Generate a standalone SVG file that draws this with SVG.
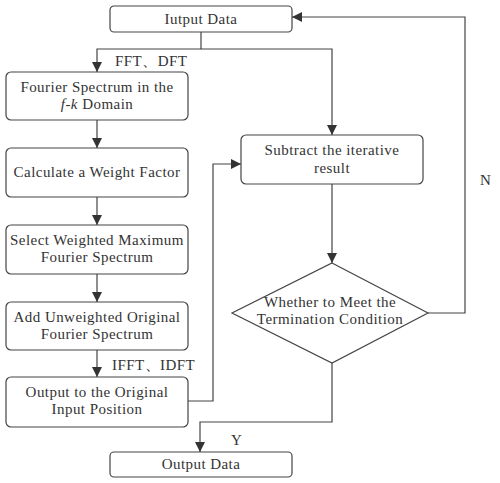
<svg xmlns="http://www.w3.org/2000/svg" width="500" height="483" viewBox="0 0 500 483">
<defs>
<marker id="ah" viewBox="0 0 10 10" refX="10" refY="5" markerWidth="10" markerHeight="10" markerUnits="userSpaceOnUse" orient="auto">
<path d="M0,0 L10,5 L0,10 Z" fill="#333"/>
</marker>
<style>
.box{fill:#fff;stroke:#444;stroke-width:1.2}
.t{font-family:'Liberation Serif',serif;font-size:15px;letter-spacing:0.45px;fill:#333;text-anchor:middle}
.l{font-family:'Liberation Serif',serif;font-size:15px;letter-spacing:0.45px;fill:#333}
.c{fill:none;stroke:#444;stroke-width:1.2}
</style>
</defs>
<rect width="500" height="483" fill="#fff"/>
<g id="connectors">
<path class="c" d="M201,32 V49 H97 V72" marker-end="url(#ah)"/>
<path class="c" d="M201,49 H332 V135" marker-end="url(#ah)"/>
<path class="c" d="M97,120 V148" marker-end="url(#ah)"/>
<path class="c" d="M97,197 V225" marker-end="url(#ah)"/>
<path class="c" d="M97,274 V302" marker-end="url(#ah)"/>
<path class="c" d="M97,350 V377" marker-end="url(#ah)"/>
<path class="c" d="M188,401 H213 V164 H241" marker-end="url(#ah)"/>
<path class="c" d="M332,184 V263" marker-end="url(#ah)"/>
<path class="c" d="M428,313 H465 V17 H292" marker-end="url(#ah)"/>
<path class="c" d="M332,363 V422 H200 V452" marker-end="url(#ah)"/>
<text class="l" x="115" y="66">FFT、DFT</text>
<text class="l" x="112" y="370">IFFT、IDFT</text>
<text class="l" x="480" y="185">N</text>
<text class="l" x="231" y="445">Y</text>
</g>
<g id="n-input">
<rect class="box" x="110" y="6" width="182" height="26" rx="4"/>
<text class="t" x="201" y="24">Iutput Data</text>
</g>
<g id="n-fourier">
<rect class="box" x="6" y="72" width="182" height="48" rx="5"/>
<text class="t" x="97" y="92">Fourier Spectrum in the</text>
<text class="t" x="97" y="109"><tspan font-style="italic">f-k</tspan> Domain</text>
</g>
<g id="n-weight">
<rect class="box" x="6" y="148" width="182" height="49" rx="5"/>
<text class="t" x="97" y="177">Calculate a Weight Factor</text>
</g>
<g id="n-select">
<rect class="box" x="6" y="225" width="182" height="49" rx="5"/>
<text class="t" x="97" y="245">Select Weighted Maximum</text>
<text class="t" x="97" y="262">Fourier Spectrum</text>
</g>
<g id="n-add">
<rect class="box" x="6" y="302" width="182" height="48" rx="5"/>
<text class="t" x="97" y="322">Add Unweighted Original</text>
<text class="t" x="97" y="339">Fourier Spectrum</text>
</g>
<g id="n-outpos">
<rect class="box" x="6" y="377" width="182" height="50" rx="5"/>
<text class="t" x="97" y="397">Output to the Original</text>
<text class="t" x="97" y="414">Input Position</text>
</g>
<g id="n-subtract">
<rect class="box" x="241" y="135" width="182" height="49" rx="5"/>
<text class="t" x="332" y="155">Subtract the iterative</text>
<text class="t" x="332" y="173">result</text>
</g>
<g id="n-decision">
<polygon class="box" points="332,263 428,313 332,363 232,313"/>
<text class="t" x="330" y="307">Whether to Meet the</text>
<text class="t" x="330" y="324">Termination Condition</text>
</g>
<g id="n-output">
<rect class="box" x="110" y="452" width="182" height="25" rx="4"/>
<text class="t" x="201" y="469">Output Data</text>
</g>
</svg>
